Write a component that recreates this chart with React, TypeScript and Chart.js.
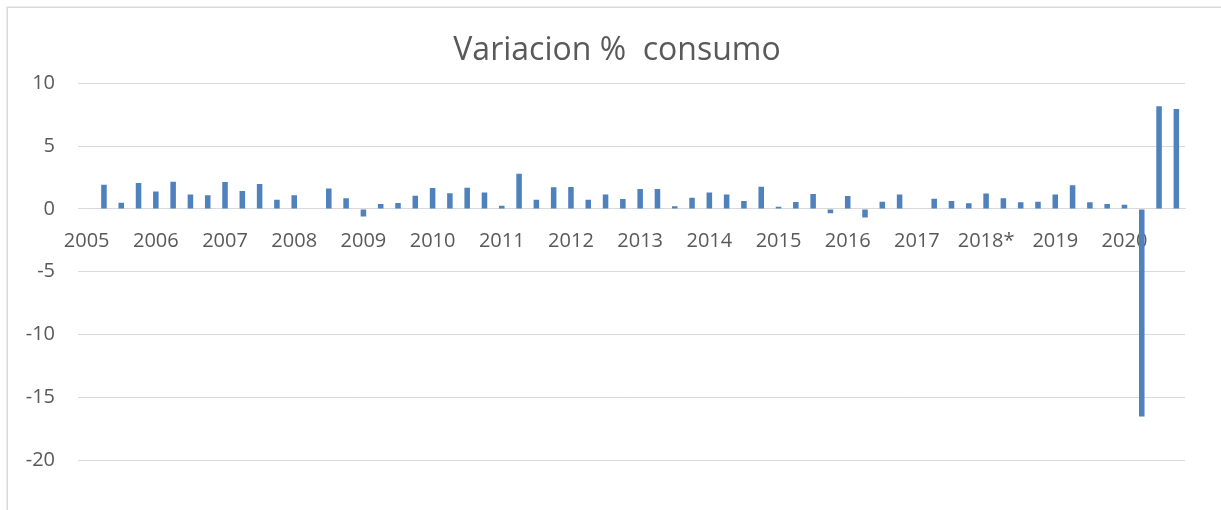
import React, { useEffect, useRef } from "react";
import { Chart, registerables } from "chart.js";

Chart.register(...registerables);

const years = [
  "2005", "2006", "2007", "2008", "2009", "2010", "2011", "2012",
  "2013", "2014", "2015", "2016", "2017", "2018*", "2019", "2020",
];

// quarterly values, one row of 4 per year
const v2005 = [null, 1.93, 0.5, 2.07];
const v2006 = [1.38, 2.17, 1.14, 1.09];
const v2007 = [2.15, 1.43, 1.99, 0.74];
const v2008 = [1.09, null, 1.62, 0.85];
const v2009 = [-0.6, 0.4, 0.48, 1.06];
const v2010 = [1.67, 1.24, 1.69, 1.3];
const v2011 = [0.26, 2.81, 0.74, 1.72];
const v2012 = [1.75, 0.74, 1.14, 0.8];
const v2013 = [1.59, 1.59, 0.21, 0.9];
const v2014 = [1.3, 1.14, 0.64, 1.77];
const v2015 = [0.18, 0.56, 1.19, -0.35];
const v2016 = [1.03, -0.69, 0.58, 1.14];
const v2017 = [null, 0.82, 0.64, 0.45];
const v2018 = [1.22, 0.85, 0.53, 0.58];
const v2019 = [1.14, 1.88, 0.53, 0.4];
const v2020 = [0.34, -16.54, 8.17, 7.96];

const yTicks = [10, 5, 0, -5, -10, -15, -20];

const values = [
  ...v2005, ...v2006, ...v2007, ...v2008, ...v2009, ...v2010, ...v2011, ...v2012,
  ...v2013, ...v2014, ...v2015, ...v2016, ...v2017, ...v2018, ...v2019, ...v2020,
];
const labels = years.flatMap((y) => [y, "", "", ""]);

const FONT = "'Open Sans', 'DejaVu Sans', sans-serif";
const TEXT = "#595959";
const GRID = "#d9d9d9";

const framePlugin = {
  id: "frame",
  afterLayout(chart: any) {
    // centre the title on the chart frame (which starts at x = 7)
    if (chart.titleBlock) {
      chart.titleBlock.left = 49;
    }
  },
  beforeDraw(chart: any) {
    const ctx = chart.ctx;
    ctx.save();
    ctx.fillStyle = "#ffffff";
    ctx.fillRect(0, 0, chart.width, chart.height);
    ctx.strokeStyle = GRID;
    ctx.lineWidth = 1.5;
    ctx.beginPath();
    ctx.moveTo(7.25, chart.height);
    ctx.lineTo(7.25, 7.25);
    ctx.lineTo(chart.width, 7.25);
    ctx.stroke();
    ctx.restore();
  },
};

export default function App() {
  const ref = useRef<HTMLCanvasElement | null>(null);
  useEffect(() => {
    if (!ref.current) return;
    const chart = new Chart(ref.current, {
      type: "bar",
      data: {
        labels,
        datasets: [
          {
            label: "Variacion %  consumo",
            data: values as any,
            backgroundColor: "#4F81BD",
            borderWidth: 0,
            barPercentage: 0.32,
            categoryPercentage: 1,
          },
        ],
      },
      options: {
        animation: false,
        responsive: false,
        layout: { padding: { left: 0, right: 36, top: 0, bottom: 50 } },
        plugins: {
          legend: { display: false },
          tooltip: { enabled: false },
          title: {
            display: true,
            text: "Variacion %  consumo",
            color: TEXT,
            font: { family: FONT, size: 32, weight: 400 as any, lineHeight: 1.2 },
            padding: { top: 32, bottom: 13 },
          },
        },
        scales: {
          x: {
            type: "category",
            position: { y: 0 } as any,
            grid: { display: false, drawTicks: false },
            border: { display: true, color: GRID, width: 1 },
            ticks: {
              autoSkip: false,
              maxRotation: 0,
              minRotation: 0,
              padding: 20,
              color: TEXT,
              font: { family: FONT, size: 20 },
            },
          },
          y: {
            min: -20,
            max: 10,
            afterBuildTicks: (scale: any) => {
              scale.ticks = yTicks.map((v) => ({ value: v }));
            },
            afterFit: (scale: any) => {
              scale.width = 78;
            },
            grid: { color: GRID, lineWidth: 1, drawTicks: false },
            border: { display: false },
            ticks: {
              padding: 23,
              color: TEXT,
              font: { family: FONT, size: 20 },
            },
          },
        },
      },
      plugins: [framePlugin],
    });
    return () => chart.destroy();
  }, []);
  return (
    <div
      style={{
        position: "fixed",
        left: 0,
        top: 0,
        width: 1221,
        height: 510,
        overflow: "hidden",
        background: "#fff",
      }}
    >
      <canvas ref={ref} width={1221} height={510} style={{ display: "block" }} />
    </div>
  );
}
